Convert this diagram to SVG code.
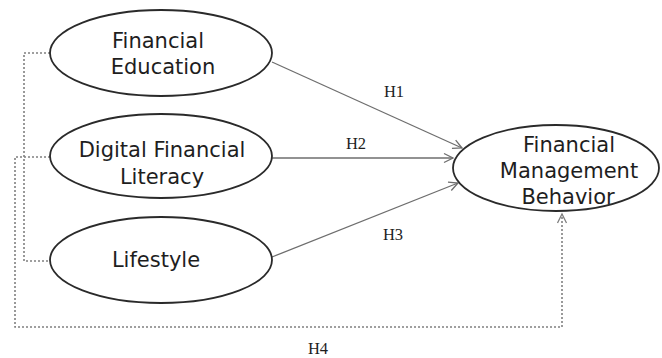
<svg xmlns="http://www.w3.org/2000/svg" width="662" height="358" viewBox="0 0 662 358">
  <style>
    .node ellipse { fill: #ffffff; stroke: #2a2a2a; stroke-width: 1.8; }
    .label { font-family: "DejaVu Sans", Verdana, sans-serif; font-size: 21px; fill: #1e1e1e; text-anchor: middle; }
    .path { fill: none; stroke: #6e6e6e; stroke-width: 1.3; }
    .dotted { fill: none; stroke: #808080; stroke-width: 1.6; stroke-dasharray: 2 2; }
    .hyp { font-family: "Liberation Serif", "Times New Roman", serif; font-size: 16.5px; fill: #1e1e1e; text-anchor: middle; }
  </style>
  <defs>
    <marker id="open-arrow" markerWidth="12" markerHeight="12" refX="10" refY="5" orient="auto" markerUnits="userSpaceOnUse" viewBox="0 0 12 10">
      <path d="M1,0.5 L10,5 L1,9.5" fill="none" stroke="#6e6e6e" stroke-width="1.3"/>
    </marker>
    <marker id="open-arrow-dot" markerWidth="12" markerHeight="12" refX="10" refY="5" orient="auto" markerUnits="userSpaceOnUse" viewBox="0 0 12 10">
      <path d="M1,0.5 L10,5 L1,9.5" fill="none" stroke="#808080" stroke-width="1.3"/>
    </marker>
  </defs>

  <!-- connectors -->
  <g id="connectors">
    <path class="dotted" d="M50,53 H24 V261 H50"/>
    <path class="dotted" d="M50,157 H15 V327 H562 V214" marker-end="url(#open-arrow-dot)"/>
    <line class="path" x1="272" y1="62" x2="462" y2="148" marker-end="url(#open-arrow)"/>
    <line class="path" x1="272" y1="158" x2="453" y2="158" marker-end="url(#open-arrow)"/>
    <line class="path" x1="272" y1="257" x2="458" y2="183" marker-end="url(#open-arrow)"/>
    <text class="hyp" x="394" y="97">H1</text>
    <text class="hyp" x="356" y="149">H2</text>
    <text class="hyp" x="393" y="240">H3</text>
    <text class="hyp" x="318" y="354">H4</text>
  </g>

  <!-- nodes -->
  <g id="financial-education" class="node">
    <ellipse cx="161" cy="53" rx="111" ry="43"/>
    <text class="label" x="158" y="48">Financial</text>
    <text class="label" x="163" y="74">Education</text>
  </g>
  <g id="digital-financial-literacy" class="node">
    <ellipse cx="161" cy="156" rx="111" ry="42"/>
    <text class="label" x="162" y="157">Digital Financial</text>
    <text class="label" x="162" y="184">Literacy</text>
  </g>
  <g id="lifestyle" class="node">
    <ellipse cx="161" cy="260" rx="111" ry="43"/>
    <text class="label" x="156" y="267">Lifestyle</text>
  </g>
  <g id="financial-management-behavior" class="node">
    <ellipse cx="556" cy="168" rx="103" ry="43"/>
    <text class="label" x="569" y="152">Financial</text>
    <text class="label" x="569" y="178">Management</text>
    <text class="label" x="568" y="204">Behavior</text>
  </g>
</svg>
